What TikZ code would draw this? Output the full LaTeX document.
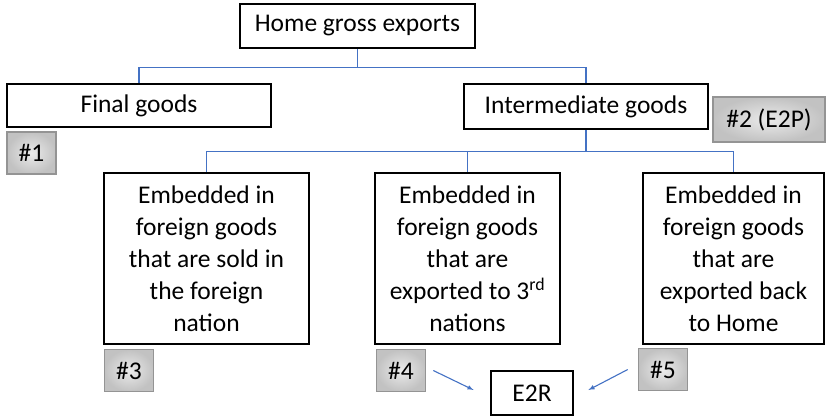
\documentclass[tikz,border=0pt]{standalone}
\usepackage{fontspec}
\setmainfont{Carlito}
\usepackage{tikz}

\begin{document}
\begin{tikzpicture}
            [
                x=1pt, y=-1pt,
                box/.style={draw=black, line width=2.8pt, fill=white, align=center, inner sep=0pt},
                tag/.style={draw=black!42, line width=1.6pt, inner color=black!8, outer color=black!24, inner sep=0pt, minimum width=49pt, minimum height=42pt},
                conn/.style={draw={rgb,255:red,68;green,114;blue,196}, line width=1.1pt},
                ->, >=latex
            ]
            \useasboundingbox (0,0) rectangle (826,416);
            \fontsize{25.5}{32}\selectfont
            \node[box, minimum width=235pt, minimum height=44pt] (home) at (357.5,26) {Home gross exports};
            \node[box, minimum width=264pt, minimum height=43pt] (final) at (139,105.5) {Final goods};
            \node[box, minimum width=244pt, minimum height=45pt] (inter) at (586,106.5) {Intermediate goods};
            \node[box, minimum width=205pt, minimum height=171pt] (sold) at (206.5,258.5)
                {Embedded in \\ foreign goods \\ that are sold in \\ the foreign \\ nation};
            \node[box, minimum width=185pt, minimum height=171pt] (third) at (467.5,258.5)
                {Embedded in \\ foreign goods \\ that are \\ exported to 3\textsuperscript{rd} \\ nations};
            \node[box, minimum width=181pt, minimum height=171pt] (back) at (733.5,258.5)
                {Embedded in \\ foreign goods \\ that are \\ exported back \\ to Home};
            \node[box, minimum width=82pt, minimum height=44pt] (etwor) at (532,393) {E2R};
            \node[tag] (tagone) at (31.5,153) {\#1};
            \node[tag, minimum width=112pt, minimum height=45pt] (tagtwo) at (769,119.5) {\#2 (E2P)};
            \node[tag] (tagthree) at (129,370.5) {\#3};
            \node[tag] (tagfour) at (401,370.5) {\#4};
            \node[tag] (tagfive) at (663,369.5) {\#5};
            \draw[conn, -] (home.south) -- ++(0,18) -| (final.north);
            \draw[conn, -] (home.south) -- ++(0,18) -| (inter.north);
            \draw[conn, -] (inter.south) -- ++(0,21) -| (sold.north);
            \draw[conn, -] (inter.south) -- ++(0,21) -| (third.north);
            \draw[conn, -] (inter.south) -- ++(0,21) -| (back.north);
            \draw[conn] ([xshift=7pt]tagfour.east) -- ([xshift=-16pt, yshift=3pt]etwor.west);
            \draw[conn] ([xshift=-10pt]tagfive.west) -- ([xshift=14pt, yshift=3pt]etwor.east);
        \end{tikzpicture}
\end{document}
